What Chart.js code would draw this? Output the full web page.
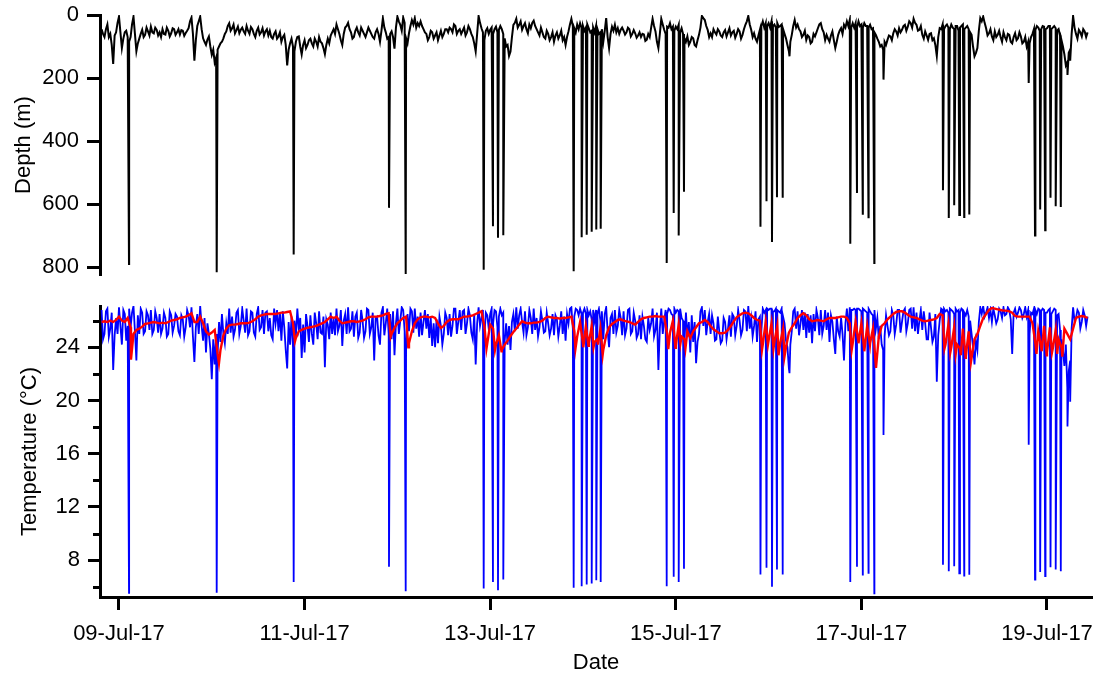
<!DOCTYPE html>
<html>
<head>
<meta charset="utf-8">
<script src="https://cdn.jsdelivr.net/npm/chart.js@4.4.1/dist/chart.umd.min.js"></script>
<style>
  html, body { margin: 0; padding: 0; background: #fff; }
  #wrap { position: relative; width: 1100px; height: 676px; }
  canvas { position: absolute; left: 0; }
  #depthChart { top: 0; }
  #tempChart { top: 290px; }
</style>
</head>
<body>
<div id="wrap">
  <canvas id="depthChart" width="1100" height="290"></canvas>
  <canvas id="tempChart" width="1100" height="386"></canvas>
</div>
<script>
// Time is in hours since 08-Jul-17 00:00.
const axisStartHour = 19.09;
const axisEndHour = 275.64;

// Surface record: samples every 0.75 h from 19.5 h, plus the
// intermediate samples taken halfway between them.
const sampleStartHour = 19.5;
const sampleStepHours = 0.75;

// Depth (m) between dives
const depthSurface = [
  45, 70, 30, 60, 155, 55, 5, 105, 55, 70,
  70, 5, 115, 75, 47, 63, 52, 37, 58, 47,
  55, 45, 62, 50, 58, 45, 55, 62, 50, 57,
  42, 8, 145, 35, 5, 74, 95, 68, 126, 150,
  110, 90, 74, 52, 26, 42, 58, 37, 47, 52,
  35, 60, 45, 70, 40, 55, 65, 45, 50, 75,
  52, 68, 85, 63, 160, 90, 100, 85, 68, 125,
  80, 95, 75, 100, 85, 70, 90, 124, 75, 65,
  45, 30, 60, 95, 40, 25, 55, 70, 40, 65,
  50, 70, 40, 60, 75, 45, 85, 10, 55, 70,
  52, 107, 5, 31, 8, 74, 58, 16, 10, 26,
  20, 45, 60, 70, 55, 65, 80, 50, 60, 45,
  40, 55, 35, 50, 60, 40, 55, 45, 70, 116,
  3, 42, 80, 42, 47, 60, 37, 47, 45, 74,
  95, 116, 31, 12, 31, 47, 26, 58, 42, 18,
  45, 65, 55, 75, 60, 70, 85, 55, 65, 80,
  95, 52, 12, 42, 30, 26, 35, 40, 42, 50,
  55, 45, 55, 85, 10, 105, 37, 31, 42, 47,
  50, 55, 45, 60, 58, 65, 70, 62, 78, 70,
  12, 52, 105, 12, 47, 37, 26, 37, 37, 31,
  42, 74, 68, 85, 74, 100, 63, 3, 16, 47,
  58, 45, 62, 52, 70, 48, 55, 65, 50, 60,
  52, 63, 31, 3, 47, 58, 85, 47, 20, 26,
  26, 20, 30, 26, 35, 45, 74, 115, 63, 16,
  30, 52, 63, 79, 70, 85, 68, 42, 26, 55,
  63, 85, 52, 105, 63, 42, 31, 20, 15, 26,
  26, 20, 30, 26, 35, 31, 42, 63, 85, 95,
  85, 79, 68, 58, 52, 42, 47, 31, 37, 26,
  12, 31, 47, 63, 52, 79, 58, 74, 130, 42,
  30, 35, 40, 30, 45, 35, 40, 30, 40, 45,
  63, 131, 105, 10, 5, 42, 58, 68, 52, 63,
  70, 55, 80, 63, 90, 58, 74, 68, 85, 100,
  90, 60, 47, 40, 45, 37, 42, 35, 40, 42,
  45, 80, 125, 150, 110, 3, 60, 47, 68, 52,
  55
];
const depthSurfaceMid = [
  60, 45, 70, 95, 65, 25, 55, 75, 50, 85,
  30, 60, 90, 60, 70, 40, 65, 55, 40, 65,
  70, 60, 40, 68, 42, 63, 45, 48, 66, 50,
  20, 60, 80, 20, 45, 85, 78, 100, 110, 135,
  100, 85, 60, 35, 50, 30, 48, 58, 40, 60,
  50, 38, 60, 50, 62, 42, 52, 65, 70, 60,
  75, 55, 70, 95, 110, 75, 115, 70, 100, 95,
  105, 80, 90, 75, 100, 85, 105, 95, 90, 55,
  60, 45, 80, 60, 35, 45, 75, 50, 55, 40,
  60, 55, 50, 70, 55, 60, 50, 40, 75, 60,
  70, 40, 20, 50, 25, 90, 35, 30, 40, 35,
  35, 55, 80, 50, 75, 55, 65, 70, 45, 55,
  45, 30, 60, 45, 50, 65, 35, 60, 90, 60,
  25, 55, 50, 60, 40, 45, 55, 35, 60, 100,
  130, 70, 25, 40, 20, 35, 45, 30, 25, 35,
  55, 40, 70, 50, 80, 55, 65, 75, 50, 70,
  70, 30, 35, 55, 45, 40, 50, 30, 55, 40,
  35, 60, 45, 50, 70, 60, 50, 55, 60, 40,
  62, 40, 68, 48, 72, 55, 60, 82, 60, 40,
  35, 85, 60, 30, 60, 40, 45, 50, 45, 55,
  60, 85, 95, 70, 95, 80, 40, 10, 35, 70,
  70, 55, 45, 65, 55, 68, 42, 55, 72, 45,
  75, 45, 20, 30, 70, 75, 65, 35, 40, 35,
  40, 35, 40, 38, 30, 60, 95, 85, 35, 40,
  45, 70, 50, 65, 90, 60, 55, 30, 45, 80,
  75, 65, 80, 85, 50, 60, 40, 35, 40, 40,
  40, 35, 40, 35, 40, 45, 55, 75, 100, 110,
  95, 65, 80, 45, 65, 55, 35, 50, 20, 40,
  25, 50, 35, 75, 65, 60, 80, 95, 70, 45,
  45, 30, 45, 40, 35, 50, 35, 45, 35, 55,
  100, 120, 50, 20, 25, 65, 45, 80, 70, 50,
  85, 70, 60, 85, 70, 80, 55, 90, 70, 85,
  70, 45, 35, 50, 35, 45, 35, 45, 35, 50,
  65, 100, 160, 120, 60, 40, 75, 55, 45, 70
];

// Temperature (°C) between dives, raw sensor
const tempSurface = [
  26.8, 25.0, 26.9, 25.4, 22.3, 26.2, 27.0, 24.2, 26.5, 25.6,
  25.5, 27.1, 23.0, 25.0, 26.6, 25.2, 26.4, 26.8, 25.3, 26.2,
  26.5, 25.4, 26.2, 25.0, 26.4, 25.6, 26.3, 24.9, 26.1, 25.5,
  26.4, 27.0, 22.9, 26.5, 27.1, 24.5, 23.6, 25.0, 21.6, 22.7,
  23.5, 24.4, 25.0, 25.8, 26.9, 26.3, 25.3, 26.8, 25.6, 26.0,
  26.9, 25.2, 26.6, 24.8, 27.0, 25.5, 25.0, 26.7, 26.2, 24.6,
  25.8, 25.2, 24.5, 25.5, 22.4, 24.2, 24.0, 24.8, 25.4, 23.2,
  23.6, 25.6, 26.4, 24.2, 25.8, 26.7, 25.0, 22.5, 25.7, 26.6,
  26.2, 26.9, 25.6, 24.1, 26.5, 27.0, 25.4, 24.8, 26.6, 25.1,
  26.0, 25.2, 26.8, 25.5, 23.0, 26.3, 24.2, 27.0, 25.8, 25.0,
  24.6, 23.4, 26.9, 26.0, 26.8, 24.0, 25.2, 26.7, 26.9, 26.3,
  26.6, 25.9, 25.4, 24.7, 24.1, 24.0, 24.3, 25.6, 25.0, 26.2,
  26.5, 25.6, 26.9, 25.9, 25.3, 26.8, 25.8, 26.4, 24.6, 22.7,
  27.0, 26.2, 24.8, 26.4, 26.5, 25.8, 26.7, 26.3, 26.4, 24.5,
  24.2, 23.8, 26.5, 27.0, 26.4, 25.9, 26.7, 25.5, 26.2, 26.9,
  26.2, 25.5, 26.0, 25.2, 25.8, 25.4, 24.9, 26.1, 25.6, 25.0,
  24.5, 25.8, 27.0, 26.3, 26.8, 26.9, 26.6, 26.5, 26.4, 26.1,
  26.0, 26.5, 26.0, 24.6, 27.0, 24.0, 26.5, 26.8, 25.6, 26.2,
  26.7, 25.4, 26.9, 25.2, 26.0, 25.0, 24.6, 25.6, 24.4, 25.3,
  26.9, 25.3, 22.3, 26.9, 26.0, 26.5, 26.8, 26.4, 26.6, 26.7,
  26.2, 24.5, 24.8, 23.6, 24.4, 22.8, 25.0, 27.0, 26.8, 25.9,
  25.0, 25.8, 24.6, 25.2, 24.5, 25.9, 25.4, 24.8, 26.3, 25.6,
  26.0, 25.3, 26.7, 27.1, 26.2, 25.6, 24.4, 26.3, 26.9, 26.8,
  26.8, 26.9, 26.7, 26.8, 26.6, 26.3, 24.5, 22.4, 25.2, 26.9,
  26.7, 25.8, 25.3, 24.7, 25.1, 24.3, 25.2, 26.2, 26.8, 25.6,
  25.3, 24.4, 25.9, 23.5, 25.2, 26.2, 23.0, 26.9, 27.0, 26.8,
  26.8, 26.9, 26.7, 26.8, 26.6, 26.7, 26.4, 25.4, 24.6, 24.2,
  24.8, 25.6, 25.2, 26.4, 25.7, 26.8, 25.9, 26.9, 25.8, 26.9,
  27.0, 26.6, 26.0, 25.3, 25.8, 24.6, 25.5, 24.8, 21.4, 26.0,
  26.8, 26.7, 26.6, 26.8, 26.5, 26.7, 26.6, 26.8, 26.4, 26.3,
  25.0, 22.7, 23.8, 27.0, 27.1, 26.6, 26.2, 25.9, 26.4, 26.1,
  26.7, 27.0, 26.5, 26.8, 23.5, 26.9, 26.6, 26.8, 26.5, 26.3,
  25.0, 26.5, 26.8, 26.9, 26.7, 26.8, 26.6, 26.9, 26.7, 26.8,
  26.5, 24.6, 22.6, 21.0, 23.0, 27.0, 26.2, 26.6, 25.9, 26.4,
  26.3
];
const tempSurfaceMid = [
  24.6, 26.7, 24.8, 26.6, 24.9, 25.0, 25.6, 26.8, 24.5, 26.9,
  26.6, 25.2, 26.4, 26.9, 25.0, 26.7, 25.3, 25.0, 26.7, 25.1,
  25.0, 26.6, 24.8, 26.7, 25.1, 26.5, 25.2, 26.4, 24.8, 26.8,
  25.5, 24.8, 25.5, 25.0, 25.6, 26.2, 25.8, 23.9, 24.6, 25.0,
  25.9, 26.5, 24.3, 25.0, 25.1, 24.8, 26.6, 25.0, 26.9, 25.1,
  24.9, 26.7, 25.1, 26.5, 25.3, 26.8, 26.6, 25.2, 24.9, 26.9,
  26.8, 26.6, 26.7, 23.8, 25.9, 26.3, 26.0, 26.9, 26.2, 25.7,
  26.5, 24.4, 25.0, 26.6, 24.6, 25.1, 26.3, 26.1, 24.6, 25.0,
  24.9, 25.2, 26.8, 26.0, 25.0, 25.2, 26.7, 26.3, 24.7, 26.8,
  24.7, 26.9, 25.0, 26.6, 26.2, 24.9, 26.6, 24.9, 26.9, 26.5,
  26.7, 25.8, 25.0, 27.0, 25.2, 26.5, 26.9, 25.1, 25.4, 24.8,
  24.9, 26.8, 26.5, 26.2, 25.8, 26.1, 26.3, 24.2, 26.6, 24.9,
  24.8, 26.9, 25.0, 26.8, 26.7, 25.0, 26.9, 25.1, 26.5, 25.8,
  25.6, 26.8, 26.6, 25.4, 26.9, 26.8, 25.5, 26.9, 26.6, 25.8,
  25.6, 25.9, 25.2, 25.4, 26.9, 25.1, 24.9, 26.8, 25.0, 25.3,
  24.8, 26.7, 25.1, 26.6, 24.9, 26.5, 26.4, 24.8, 26.7, 26.3,
  26.5, 26.9, 25.4, 26.9, 26.4, 26.5, 26.9, 26.8, 26.7, 26.8,
  26.8, 26.9, 26.7, 26.5, 25.2, 26.2, 25.0, 25.1, 26.8, 24.9,
  24.9, 26.8, 25.0, 26.6, 24.7, 26.4, 26.3, 24.6, 26.2, 25.8,
  24.8, 26.6, 25.4, 25.0, 26.8, 26.9, 26.5, 26.9, 26.8, 26.9,
  26.0, 26.6, 25.9, 26.4, 25.9, 24.4, 26.7, 25.6, 24.9, 26.5,
  26.4, 24.5, 26.3, 24.3, 26.2, 24.6, 26.4, 26.5, 24.9, 26.8,
  24.9, 26.8, 25.2, 25.4, 24.8, 26.7, 26.1, 25.2, 26.6, 26.9,
  26.9, 26.7, 26.9, 26.7, 26.9, 25.8, 24.0, 24.2, 26.7, 25.4,
  24.9, 26.8, 26.6, 26.5, 26.4, 26.5, 26.8, 24.9, 25.0, 26.8,
  26.6, 26.4, 24.6, 26.3, 24.8, 25.0, 25.8, 25.2, 26.8, 26.9,
  26.9, 26.8, 26.9, 26.7, 26.9, 26.5, 26.8, 26.2, 25.6, 23.8,
  26.4, 24.9, 26.8, 25.0, 26.8, 25.1, 26.7, 25.2, 26.8, 25.4,
  25.2, 25.0, 26.8, 26.7, 24.6, 26.6, 24.4, 26.5, 24.9, 26.9,
  26.9, 26.8, 26.9, 26.7, 26.9, 26.8, 26.9, 26.6, 26.8, 26.0,
  24.0, 24.5, 25.9, 26.5, 26.3, 27.0, 26.8, 26.9, 25.8, 26.9,
  26.2, 26.4, 27.0, 26.1, 26.6, 26.3, 27.0, 26.2, 27.0, 26.8,
  26.6, 26.9, 26.5, 26.8, 26.9, 26.6, 26.8, 26.5, 26.9, 26.4,
  25.3, 23.8, 24.2, 22.2, 25.4, 26.0, 26.8, 25.4, 26.8, 25.6
];

// Temperature (°C), response-corrected trace (0.75 h samples)
const tempSmooth = [
  25.9, 25.95, 25.9, 26.0, 25.9, 26.05, 26.3, 26.0, 25.9, 26.2,
  25.5, 25.0, 25.3, 25.4, 25.55, 25.75, 25.8, 25.85, 25.9, 25.85,
  25.8, 25.85, 25.8, 25.9, 26.0, 26.05, 26.1, 26.2, 26.25, 26.3,
  26.4, 26.55, 25.9, 25.9, 26.3, 25.8, 25.2, 24.95, 25.1, 25.3,
  23.5, 23.8, 24.9, 25.4, 25.65, 25.7, 25.7, 25.75, 25.8, 25.8,
  25.8, 25.85, 25.95, 26.1, 26.3, 26.4, 26.45, 26.5, 26.5, 26.5,
  26.5, 26.55, 26.6, 26.6, 26.65, 26.7, 25.8, 24.7, 25.2, 25.3,
  25.4, 25.45, 25.5, 25.55, 25.6, 25.7, 25.8, 25.9, 26.1, 26.3,
  26.2, 26.3, 26.0, 25.8, 25.85, 25.9, 25.95, 25.95, 25.9, 25.95,
  26.0, 26.1, 26.25, 26.3, 26.3, 26.3, 26.35, 26.4, 26.5, 26.55,
  25.0, 25.45, 25.8, 26.0, 26.2, 26.3, 24.3, 25.2, 25.8, 26.1,
  26.25, 26.3, 26.3, 26.25, 26.3, 26.2, 25.8, 25.45, 25.6, 25.9,
  26.05, 26.1, 26.1, 26.1, 26.2, 26.3, 26.3, 26.35, 26.4, 26.5,
  26.6, 26.7, 25.6, 24.3, 25.7, 25.4, 24.2, 24.9, 23.8, 24.2,
  24.5, 24.85, 25.15, 25.4, 25.7, 25.95, 25.85, 25.8, 25.8, 25.85,
  25.85, 25.9, 26.0, 26.2, 26.3, 26.25, 26.2, 26.2, 26.15, 26.2,
  26.2, 26.25, 26.3, 25.2, 24.8, 25.9, 24.3, 25.6, 24.3, 25.6,
  24.4, 24.6, 25.4, 23.8, 24.9, 25.5, 25.75, 25.9, 26.05, 26.1,
  26.0, 25.95, 25.9, 25.8, 25.7, 25.9, 26.1, 26.2, 26.25, 26.3,
  26.3, 26.35, 26.3, 26.3, 26.3, 25.0, 25.1, 26.0, 24.1, 25.7,
  24.8, 24.6, 25.2, 24.7, 25.2, 25.5, 25.8, 25.9, 26.05, 25.9,
  25.6, 25.35, 25.2, 25.05, 25.05, 25.1, 25.3, 25.6, 25.95, 26.25,
  26.4, 26.55, 26.6, 26.55, 26.4, 26.2, 26.05, 26.0, 24.2, 25.9,
  24.5, 25.8, 24.4, 25.6, 24.3, 25.4, 24.0, 25.1, 25.5, 25.8,
  26.2, 26.4, 26.55, 26.4, 26.1, 25.95, 26.0, 26.05, 26.0, 25.95,
  26.1, 26.2, 26.2, 26.2, 26.25, 26.3, 26.3, 26.2, 25.8, 24.3,
  25.9, 24.4, 25.8, 23.8, 25.6, 24.3, 25.4, 22.6, 24.8, 25.6,
  25.8, 26.1, 26.3, 26.5, 26.65, 26.7, 26.7, 26.6, 26.45, 26.3,
  26.25, 26.2, 26.1, 26.0, 25.95, 26.0, 26.05, 26.1, 26.2, 26.5,
  26.4, 24.2, 25.7, 24.0, 25.5, 24.2, 23.9, 25.4, 23.3, 25.2,
  23.2, 24.6, 25.0, 25.6, 26.2, 26.5, 26.8, 26.95, 26.9, 26.85,
  26.8, 26.75, 26.75, 26.7, 26.6, 26.35, 26.3, 26.3, 26.3, 26.3,
  26.3, 25.8, 24.3, 25.2, 24.0, 25.6, 23.6, 25.5, 23.9, 25.3,
  24.6, 24.0, 25.4, 25.0, 24.6, 25.4, 26.2, 26.3, 26.35, 26.3,
  26.2
];

// Dive bottoms: time (h), maximum depth (m), raw temperature at depth (°C)
const diveHour = [
  26.59, 49.27, 69.18, 93.83, 98.15,
  118.32, 120.72, 122.02, 123.39,
  141.59, 143.66, 144.96, 146.25, 147.44, 148.58,
  165.65, 167.46, 168.75, 170.12,
  189.90, 191.46, 192.88, 194.17, 195.65, 197.41,
  213.13, 214.86, 216.36, 217.84, 219.34, 221.72,
  237.10, 238.60, 240.00, 241.32, 242.59, 243.91,
  259.27, 260.90, 262.24, 263.53, 264.91, 266.25, 267.57, 269.30, 270.00
];
const diveDepth = [
  790, 816, 760, 612, 822,
  808, 670, 707, 699,
  813, 705, 697, 688, 681, 678,
  787, 628, 700, 561,
  672, 591, 720, 578, 580, 131,
  726, 565, 631, 642, 787, 205,
  556, 644, 604, 635, 641, 633,
  216, 700, 617, 683, 580, 607, 609, 190, 145
];
const diveTemp = [
  5.55, 5.55, 6.35, 7.5, 5.67,
  5.87, 6.35, 5.74, 6.54,
  5.92, 6.04, 6.17, 6.24, 6.49, 6.35,
  6.04, 6.75, 6.35, 7.35,
  6.92, 7.42, 6.0, 7.3, 6.92, 22.05,
  6.35, 7.5, 6.92, 7.04, 5.5, 17.4,
  7.65, 7.17, 7.55, 7.0, 6.84, 6.9,
  16.67, 6.54, 7.1, 6.8, 7.47, 7.3, 7.17, 18.05, 19.9
];

// Minima of the corrected trace just after each deep dive
const smoothDipHour = [
  27.10, 49.86, 69.52, 94.27, 98.82,
  119.04, 121.24, 122.92,
  142.06, 144.08, 145.42, 146.72, 147.88, 149.10,
  166.06, 167.92, 169.21, 170.51,
  190.29, 191.84, 193.27, 194.56, 196.11,
  213.49, 215.25, 216.75, 218.22, 219.78,
  237.49, 238.99, 240.39, 241.71, 242.97, 244.34,
  261.28, 262.63, 263.92, 265.29, 266.64, 267.96
];
const smoothDipTemp = [
  23.07, 22.8, 24.45, 24.8, 24.0,
  23.9, 23.8, 23.7,
  23.9, 24.0, 24.1, 24.0, 24.2, 23.45,
  23.85, 23.95, 24.3, 23.95,
  23.8, 24.2, 23.9, 23.4, 23.3,
  23.8, 24.3, 23.7, 24.2, 22.45,
  23.9, 23.6, 23.5, 23.4, 23.2, 22.9,
  23.5, 23.7, 23.4, 23.6, 23.5, 23.3
];

// Axis ticks
const depthTicks = [0, 200, 400, 600, 800];
const tempTicks = [8, 12, 16, 20, 24];
const tempMinorTicks = [6, 10, 14, 18, 22, 26];
const dateTickHours = [24, 72, 120, 168, 216, 264];
const dateTickLabels = ['09-Jul-17', '11-Jul-17', '13-Jul-17', '15-Jul-17', '17-Jul-17', '19-Jul-17'];

// ---- build point lists ----
function sampledTrack(values, midValues) {
  const pts = values.map((v, i) => ({ x: sampleStartHour + i * sampleStepHours, y: v }));
  if (midValues) {
    midValues.forEach((v, i) => pts.push({ x: sampleStartHour + (i + 0.5) * sampleStepHours, y: v }));
  }
  return pts;
}
function withEvents(track, hours, values) {
  const pts = track.concat(hours.map((h, i) => ({ x: h, y: values[i] })));
  pts.sort((a, b) => a.x - b.x);
  return pts;
}
const depthPoints = withEvents(sampledTrack(depthSurface, depthSurfaceMid), diveHour, diveDepth);
const tempPoints = withEvents(sampledTrack(tempSurface, tempSurfaceMid), diveHour, diveTemp);
const smoothPoints = withEvents(sampledTrack(tempSmooth), smoothDipHour, smoothDipTemp);

// ---- shared look ----
Chart.defaults.font.family = "'Liberation Sans', Arial, Helvetica, sans-serif";
Chart.defaults.font.size = 22;
Chart.defaults.color = '#000';

const AXIS_W = 3;
const Y_AXIS_WIDTH = 100;

function lineSet(points, color, width, order) {
  return {
    data: points, borderColor: color, borderWidth: width, pointRadius: 0,
    fill: false, tension: 0, order: order, parsing: false, normalized: true
  };
}

const commonOptions = {
  responsive: false, animation: false, events: [],
  plugins: { legend: { display: false }, tooltip: { enabled: false } }
};

// fixed axis box sizes, no extra room for end labels
function fixYAxis(s) { s.width = Y_AXIS_WIDTH; s.paddingTop = 0; s.paddingBottom = 0; }
function fixXAxis(s) { s.height = 79; s.paddingLeft = 0; s.paddingRight = 0; }

// short unlabelled ticks between the labelled temperature ticks
const minorTicks = {
  id: 'minorTicks',
  afterDraw(chart) {
    const s = chart.scales.y;
    const ctx = chart.ctx;
    ctx.save();
    ctx.strokeStyle = '#000';
    ctx.lineWidth = AXIS_W;
    ctx.beginPath();
    tempMinorTicks.forEach(v => {
      const y = Math.round(s.getPixelForValue(v)) + 0.5;
      ctx.moveTo(chart.chartArea.left - 7, y);
      ctx.lineTo(chart.chartArea.left, y);
    });
    ctx.stroke();
    ctx.restore();
  }
};

// ---- depth panel ----
new Chart(document.getElementById('depthChart'), {
  type: 'line',
  data: { datasets: [lineSet(depthPoints, '#000000', 2.0, 1)] },
  options: Object.assign({}, commonOptions, {
    layout: { padding: { left: 0, right: 8, top: 15, bottom: 15 } },
    scales: {
      x: { type: 'linear', display: false, min: axisStartHour, max: axisEndHour },
      y: {
        type: 'linear', reverse: true, min: 0, max: 825,
        afterBuildTicks: s => { s.ticks = depthTicks.map(v => ({ value: v })); },
        afterFit: fixYAxis,
        border: { display: true, color: '#000', width: AXIS_W },
        grid: { display: true, drawOnChartArea: false, drawTicks: true, tickLength: 13, tickWidth: AXIS_W, tickColor: '#000' },
        ticks: { color: '#000', padding: 8 },
        title: { display: true, text: 'Depth (m)', color: '#000', padding: { top: 11, bottom: 0 } }
      }
    }
  })
});

// ---- temperature panel ----
new Chart(document.getElementById('tempChart'), {
  type: 'line',
  data: {
    datasets: [
      lineSet(tempPoints, '#0000ff', 1.8, 2),
      lineSet(smoothPoints, '#ff0000', 2.4, 1)
    ]
  },
  options: Object.assign({}, commonOptions, {
    layout: { padding: { left: 0, right: 8, top: 16, bottom: 0 } },
    scales: {
      x: {
        type: 'linear', position: 'bottom', min: axisStartHour, max: axisEndHour,
        afterBuildTicks: s => { s.ticks = dateTickHours.map(v => ({ value: v })); },
        afterFit: fixXAxis,
        border: { display: true, color: '#000', width: AXIS_W },
        grid: { display: true, drawOnChartArea: false, drawTicks: true, tickLength: 13, tickWidth: AXIS_W, tickColor: '#000' },
        ticks: {
          color: '#000', padding: 11, autoSkip: false, maxRotation: 0, minRotation: 0,
          callback: v => dateTickLabels[dateTickHours.indexOf(v)]
        },
        title: { display: true, text: 'Date', color: '#000', padding: { top: 0, bottom: 0 } }
      },
      y: {
        type: 'linear', min: 5.23, max: 27.1,
        afterBuildTicks: s => { s.ticks = tempTicks.map(v => ({ value: v })); },
        afterFit: fixYAxis,
        border: { display: true, color: '#000', width: AXIS_W },
        grid: { display: true, drawOnChartArea: false, drawTicks: true, tickLength: 12, tickWidth: AXIS_W, tickColor: '#000' },
        ticks: { color: '#000', padding: 8 },
        title: { display: true, text: 'Temperature (°C)', color: '#000', padding: { top: 17, bottom: 0 } }
      }
    }
  }),
  plugins: [minorTicks]
});
</script>
</body>
</html>
